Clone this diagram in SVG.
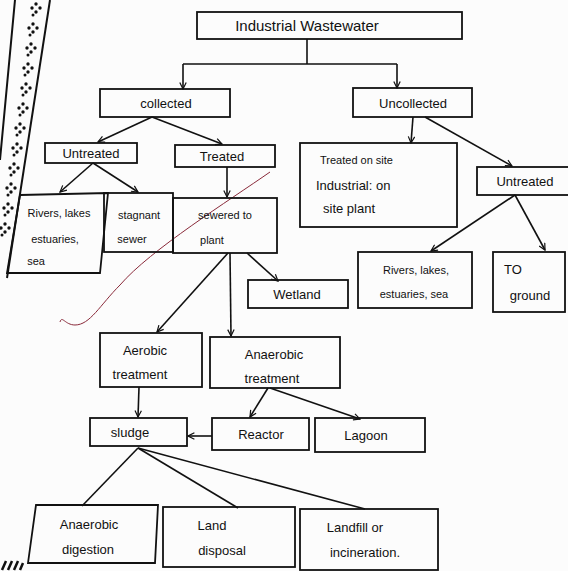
<svg xmlns="http://www.w3.org/2000/svg" width="568" height="571" viewBox="0 0 568 571">
<defs>
<marker id="arr" viewBox="0 0 10 10" refX="9" refY="5" markerWidth="8" markerHeight="8" orient="auto-start-reverse" markerUnits="userSpaceOnUse">
<path d="M1,1 L9,5 L1,9" fill="none" stroke="#111" stroke-width="1.5"/>
</marker>
<g id="cl"><circle cx="0" cy="-4" r="1.7"/><circle cx="-4" cy="0" r="1.7"/><circle cx="4" cy="0" r="1.7"/><circle cx="0" cy="4" r="1.7"/><circle cx="-3" cy="7" r="1.5"/></g>
</defs>
<style>
.box{fill:none;stroke:#111;stroke-width:1.8}
.t{font-family:"Liberation Sans","DejaVu Sans",sans-serif;fill:#111;font-size:13px;text-anchor:middle}
.s{font-size:11px}
.c{fill:none;stroke:#111;stroke-width:1.6}
</style>
<rect width="568" height="571" fill="#fcfcfc"/>
<g id="border" fill="#111">
<line x1="50" y1="0" x2="7" y2="278" stroke="#111" stroke-width="2"/>
<line x1="15" y1="0" x2="0" y2="160" stroke="#111" stroke-width="2"/>
<use href="#cl" x="36" y="8"/><use href="#cl" x="33" y="28"/><use href="#cl" x="31" y="48"/><use href="#cl" x="28" y="68"/><use href="#cl" x="26" y="88"/><use href="#cl" x="23" y="108"/><use href="#cl" x="20" y="128"/><use href="#cl" x="17" y="148"/><use href="#cl" x="14" y="168"/><use href="#cl" x="11" y="188"/><use href="#cl" x="8" y="208"/><use href="#cl" x="5" y="228"/>
<path d="M2,570 l4,-9 M8,570 l4,-9 M14,570 l4,-9 M20,570 l3,-7" stroke="#111" stroke-width="2.5"/>
</g>
<path d="M270,172 C230,200 150,250 120,285 C100,305 90,325 75,325 C65,325 62,315 60,322" fill="none" stroke="#8a2a3a" stroke-width="1"/>
<g id="connectors">
<line class="c" x1="307" y1="39" x2="307" y2="64"/>
<line class="c" x1="183" y1="64" x2="397" y2="64"/>
<line class="c" x1="183" y1="64" x2="183" y2="89" marker-end="url(#arr)"/>
<line class="c" x1="397" y1="64" x2="397" y2="88" marker-end="url(#arr)"/>
<line class="c" x1="152" y1="117" x2="98" y2="142" marker-end="url(#arr)"/>
<line class="c" x1="152" y1="117" x2="222" y2="144" marker-end="url(#arr)"/>
<line class="c" x1="93" y1="163" x2="60" y2="192" marker-end="url(#arr)"/>
<line class="c" x1="93" y1="163" x2="138" y2="192" marker-end="url(#arr)"/>
<line class="c" x1="227" y1="167" x2="227" y2="197" marker-end="url(#arr)"/>
<line class="c" x1="413" y1="117" x2="411" y2="143" marker-end="url(#arr)"/>
<line class="c" x1="425" y1="117" x2="512" y2="166" marker-end="url(#arr)"/>
<line class="c" x1="515" y1="195" x2="431" y2="251" marker-end="url(#arr)"/>
<line class="c" x1="515" y1="195" x2="545" y2="250" marker-end="url(#arr)"/>
<line class="c" x1="228" y1="253" x2="157" y2="332" marker-end="url(#arr)"/>
<line class="c" x1="230" y1="253" x2="231" y2="336" marker-end="url(#arr)"/>
<line class="c" x1="247" y1="253" x2="278" y2="281" marker-end="url(#arr)"/>
<line class="c" x1="139" y1="387" x2="138" y2="417" marker-end="url(#arr)"/>
<line class="c" x1="268" y1="388" x2="250" y2="417" marker-end="url(#arr)"/>
<line class="c" x1="270" y1="388" x2="360" y2="419" marker-end="url(#arr)"/>
<line class="c" x1="212" y1="436" x2="188" y2="436" marker-end="url(#arr)"/>
<line class="c" x1="138" y1="448" x2="82" y2="506"/>
<line class="c" x1="138" y1="448" x2="238" y2="508"/>
<line class="c" x1="138" y1="448" x2="365" y2="509"/>
</g>
<g id="industrial"><rect class="box" x="197" y="12" width="265" height="27"/><text class="t" x="307" y="31" style="font-size:15px">Industrial Wastewater</text></g>
<g id="collected"><rect class="box" x="100" y="89" width="130" height="28"/><text class="t" x="166" y="108">collected</text></g>
<g id="uncollected"><rect class="box" x="353" y="88" width="119" height="29"/><text class="t" x="413" y="108">Uncollected</text></g>
<g id="untreated1"><rect class="box" x="45" y="143" width="92" height="20"/><text class="t" x="91" y="158">Untreated</text></g>
<g id="treated"><rect class="box" x="175" y="145" width="100" height="22"/><text class="t" x="222" y="161">Treated</text></g>
<g id="rivers1"><polygon class="box" points="20,195 108,193 100,273 7,273"/><text class="t s" x="59" y="217">Rivers, lakes</text><text class="t s" x="55" y="243">estuaries,</text><text class="t s" x="36" y="265">sea</text></g>
<g id="stagnant"><rect class="box" x="104" y="193" width="69" height="59"/><text class="t s" x="139" y="219">stagnant</text><text class="t s" x="132" y="243">sewer</text></g>
<g id="sewered"><rect class="box" x="173" y="198" width="104" height="55"/><text class="t s" x="225" y="219">sewered to</text><text class="t s" x="212" y="244">plant</text></g>
<g id="onsite"><rect class="box" x="300" y="143" width="157" height="84"/><text class="t s" x="320" y="164" style="text-anchor:start">Treated on site</text><text class="t" x="316" y="190" style="text-anchor:start">Industrial: on</text><text class="t" x="323" y="213" style="text-anchor:start">site  plant</text></g>
<g id="untreated2"><rect class="box" x="477" y="167" width="92" height="28"/><text class="t" x="525" y="186">Untreated</text></g>
<g id="rivers2"><rect class="box" x="358" y="252" width="114" height="56"/><text class="t s" x="416" y="274">Rivers, lakes,</text><text class="t s" x="414" y="298">estuaries, sea</text></g>
<g id="ground"><rect class="box" x="493" y="252" width="72" height="60"/><text class="t" x="513" y="274">TO</text><text class="t" x="530" y="300">ground</text></g>
<g id="wetland"><rect class="box" x="248" y="280" width="100" height="28"/><text class="t" x="297" y="299">Wetland</text></g>
<g id="aerobic"><rect class="box" x="100" y="333" width="102" height="54"/><text class="t" x="145" y="355">Aerobic</text><text class="t" x="140" y="379">treatment</text></g>
<g id="anaerobic"><rect class="box" x="210" y="337" width="130" height="51"/><text class="t" x="274" y="359">Anaerobic</text><text class="t" x="272" y="383">treatment</text></g>
<g id="sludge"><rect class="box" x="90" y="418" width="97" height="28"/><text class="t" x="130" y="437">sludge</text></g>
<g id="reactor"><rect class="box" x="212" y="418" width="97" height="32"/><text class="t" x="261" y="439">Reactor</text></g>
<g id="lagoon"><rect class="box" x="315" y="418" width="110" height="34"/><text class="t" x="366" y="440">Lagoon</text></g>
<g id="digestion"><polygon class="box" points="36,505 158,505 155,563 28,563"/><text class="t" x="89" y="529">Anaerobic</text><text class="t" x="88" y="554">digestion</text></g>
<g id="landdisposal"><rect class="box" x="163" y="507" width="132" height="60"/><text class="t" x="212" y="530">Land</text><text class="t" x="222" y="555">disposal</text></g>
<g id="landfill"><rect class="box" x="300" y="509" width="138" height="61"/><text class="t" x="355" y="532">Landfill or</text><text class="t" x="365" y="557">incineration.</text></g>
</svg>
